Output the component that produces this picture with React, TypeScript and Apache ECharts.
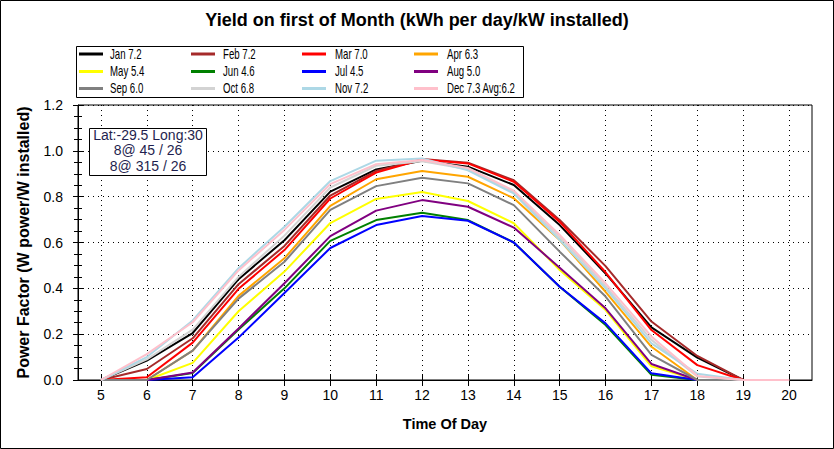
import React, { useEffect, useRef } from 'react';
import * as echarts from 'echarts';

const hours = ['5', '6', '7', '8', '9', '10', '11', '12', '13', '14', '15', '16', '17', '18', '19', '20'];
const yTicks = [0, 0.2, 0.4, 0.6, 0.8, 1.0, 1.2];

const seriesNames = [
  'Jan 7.2', 'Feb 7.2', 'Mar 7.0', 'Apr 6.3',
  'May 5.4', 'Jun 4.6', 'Jul 4.5', 'Aug 5.0',
  'Sep 6.0', 'Oct 6.8', 'Nov 7.2', 'Dec 7.3 Avg:6.2',
];
const seriesColors = [
  '#000000', '#a52a2a', '#ff0000', '#ffa500',
  '#ffff00', '#008000', '#0000ff', '#800080',
  '#808080', '#d3d3d3', '#add8e6', '#ffc0cb',
];

const jan = [0, 0.085, 0.205, 0.44, 0.61, 0.822, 0.919, 0.957, 0.931, 0.851, 0.676, 0.465, 0.23, 0.098, 0, 0];
const feb = [0, 0.048, 0.182, 0.418, 0.585, 0.805, 0.912, 0.964, 0.948, 0.872, 0.698, 0.497, 0.255, 0.105, 0, 0];
const mar = [0, 0.012, 0.163, 0.398, 0.567, 0.792, 0.905, 0.962, 0.945, 0.865, 0.69, 0.47, 0.218, 0.065, 0, 0];
const apr = [0, 0, 0.128, 0.367, 0.531, 0.76, 0.876, 0.912, 0.887, 0.793, 0.611, 0.385, 0.145, 0, 0, 0];
const may = [0, 0, 0.075, 0.3, 0.473, 0.685, 0.79, 0.82, 0.781, 0.684, 0.48, 0.305, 0.06, 0, 0, 0];
const jun = [0, 0, 0.03, 0.22, 0.4, 0.607, 0.698, 0.73, 0.698, 0.6, 0.407, 0.24, 0.023, 0, 0, 0];
const jul = [0, 0, 0.012, 0.185, 0.38, 0.576, 0.676, 0.716, 0.695, 0.6, 0.407, 0.247, 0.029, 0, 0, 0];
const aug = [0, 0, 0.033, 0.225, 0.422, 0.628, 0.739, 0.785, 0.756, 0.665, 0.49, 0.313, 0.07, 0, 0, 0];
const sep = [0, 0, 0.128, 0.355, 0.516, 0.742, 0.846, 0.883, 0.858, 0.763, 0.56, 0.364, 0.11, 0, 0, 0];
const oct = [0, 0.09, 0.22, 0.45, 0.63, 0.84, 0.935, 0.955, 0.92, 0.82, 0.625, 0.41, 0.175, 0.015, 0, 0];
const nov = [0, 0.1, 0.26, 0.488, 0.669, 0.868, 0.957, 0.967, 0.915, 0.814, 0.611, 0.4, 0.16, 0.027, 0, 0];
const dec = [0, 0.113, 0.252, 0.478, 0.655, 0.855, 0.942, 0.96, 0.925, 0.826, 0.633, 0.422, 0.19, 0.018, 0, 0];

const monthValues = [jan, feb, mar, apr, may, jun, jul, aug, sep, oct, nov, dec];

const titleText = 'Yield on first of Month (kWh per day/kW installed)';
const xName = 'Time Of Day';
const yName = 'Power Factor (W power/W installed)';
const noteLines = ['Lat:-29.5 Long:30', '8@ 45 / 26', '8@ 315 / 26'];

const FONT = "'Liberation Sans', Arial, sans-serif";

export default function App() {
  const ref = useRef<HTMLDivElement>(null);

  useEffect(() => {
    if (!ref.current) return;
    const chart = echarts.init(ref.current, undefined, { renderer: 'svg' });

    const gridLeft = 78;
    const gridTop = 105;
    const gridW = 734;
    const gridH = 275;

    // legend layout: 4 columns x 3 rows
    const colLine = [79, 191, 302, 414];
    const colText = [110, 223, 335, 447];
    const rowY = [54, 71.5, 88.5];

    const legends = seriesNames.map((name, i) => {
      const c = i % 4;
      const r = Math.floor(i / 4);
      return {
        left: colLine[c],
        top: rowY[r] - 1.5,
        itemWidth: 24,
        itemHeight: 3,
        itemGap: 0,
        icon: 'rect',
        selectedMode: false,
        padding: 0,
        data: [name],
        formatter: () => '',
        textStyle: { fontSize: 1, padding: 0 },
      };
    });

    const legendTexts = seriesNames.map((name, i) => {
      const c = i % 4;
      const r = Math.floor(i / 4);
      return {
        type: 'text',
        x: colText[c],
        y: rowY[r],
        scaleX: 0.69,
        style: {
          text: name,
          fontFamily: FONT,
          fontSize: 14,
          fill: '#000',
          align: 'left',
          verticalAlign: 'middle',
        },
        silent: true,
        z: 101,
      };
    });

    const option: any = {
      animation: false,
      backgroundColor: '#ffffff',
      title: {
        text: titleText,
        left: 'center',
        top: 11,
        padding: 0,
        textStyle: { fontFamily: FONT, fontSize: 18, fontWeight: 'bold', color: '#000' },
      },
      legend: legends,
      grid: {
        left: gridLeft,
        top: gridTop,
        width: gridW,
        height: gridH,
        show: true,
        borderColor: '#000',
        borderWidth: 1,
        backgroundColor: 'transparent',
        containLabel: false,
      },
      xAxis: [
        {
          type: 'category',
          data: hours,
          boundaryGap: true,
          position: 'bottom',
          name: xName,
          nameLocation: 'middle',
          nameGap: 36,
          nameTextStyle: { fontFamily: FONT, fontSize: 14.5, fontWeight: 'bold', color: '#000' },
          axisLine: { show: true, lineStyle: { color: '#000', width: 1 } },
          axisTick: { show: true, alignWithLabel: true, inside: false, length: 6, lineStyle: { color: '#000' } },
          axisLabel: { fontFamily: FONT, fontSize: 14, color: '#000', margin: 8, interval: 0 },
          splitLine: { show: true, alignWithLabel: true, interval: 0, lineStyle: { color: '#000', type: [1, 4], width: 1 } },
        },
        {
          type: 'category',
          data: hours,
          boundaryGap: true,
          position: 'bottom',
          axisLine: { show: false },
          axisTick: { show: true, alignWithLabel: true, inside: true, length: 6, lineStyle: { color: '#000' } },
          axisLabel: { show: false },
          splitLine: { show: false },
        },
      ],
      yAxis: [
        {
          type: 'value',
          min: 0,
          max: 1.2,
          interval: 0.2,
          position: 'left',
          name: yName,
          nameLocation: 'middle',
          nameGap: 47,
          nameTextStyle: { fontFamily: FONT, fontSize: 16, fontWeight: 'bold', color: '#000' },
          axisLine: { show: true, lineStyle: { color: '#000', width: 1 } },
          axisTick: { show: true, inside: false, length: 5, lineStyle: { color: '#000' } },
          minorTick: { show: true, splitNumber: 4, length: 4, lineStyle: { color: '#000' } },
          axisLabel: {
            fontFamily: FONT,
            fontSize: 14,
            color: '#000',
            margin: 15,
            formatter: (v: number) => (yTicks.indexOf(Math.round(v * 10) / 10) >= 0 ? v.toFixed(1) : ''),
          },
          splitLine: { show: true, lineStyle: { color: '#000', type: [1, 4], width: 1 } },
        },
        {
          type: 'value',
          min: 0,
          max: 1.2,
          interval: 0.2,
          position: 'left',
          axisLine: { show: false },
          axisTick: { show: true, inside: true, length: 5, lineStyle: { color: '#000' } },
          minorTick: { show: true, splitNumber: 4, length: 4, lineStyle: { color: '#000' } },
          axisLabel: { show: false },
          splitLine: { show: false },
        },
      ],
      series: monthValues.map((vals, i) => ({
        name: seriesNames[i],
        type: 'line',
        xAxisIndex: 0,
        yAxisIndex: 0,
        data: vals,
        showSymbol: false,
        symbol: 'none',
        color: seriesColors[i],
        lineStyle: { color: seriesColors[i], width: 2 },
        emphasis: { disabled: true },
      })),
      graphic: [
        {
          type: 'rect',
          shape: { x: 0.5, y: 0.5, width: 833, height: 448 },
          style: { fill: 'none', stroke: '#000', lineWidth: 1 },
          silent: true,
          z: 100,
        },
        {
          type: 'rect',
          shape: { x: 76.5, y: 46.5, width: 447, height: 51 },
          style: { fill: 'none', stroke: '#000', lineWidth: 1 },
          silent: true,
          z: 100,
        },
        ...legendTexts,
        {
          type: 'rect',
          shape: { x: 89.5, y: 128.5, width: 117, height: 47 },
          style: { fill: '#ffffff', stroke: '#000', lineWidth: 1 },
          silent: true,
          z: 100,
        },
        ...noteLines.map((t, i) => ({
          type: 'text',
          x: 148,
          y: 134.5 + i * 15.7,
          style: {
            text: t,
            fontFamily: FONT,
            fontSize: 14,
            fill: '#1f1f4f',
            align: 'center',
            verticalAlign: 'middle',
          },
          silent: true,
          z: 101,
        })),
      ],
    };

    chart.setOption(option);
    return () => {
      chart.dispose();
    };
  }, []);

  return (
    <div
      ref={ref}
      style={{ position: 'absolute', left: 0, top: 0, width: 834, height: 449 }}
    />
  );
}
